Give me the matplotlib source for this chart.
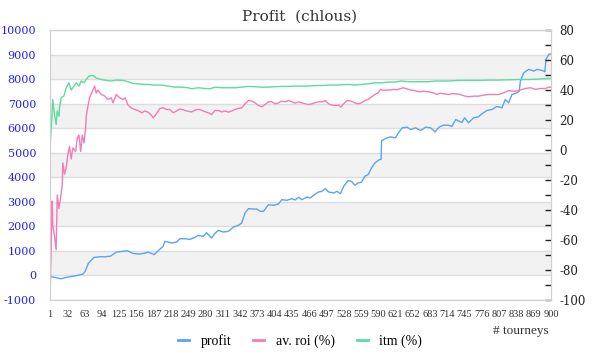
import matplotlib
matplotlib.use("Agg")
import matplotlib.pyplot as plt
import numpy as np
from matplotlib.lines import Line2D

# profit (left axis)
profit_t = [1, 10, 20, 30, 40, 50, 60, 64, 70, 80, 90, 100, 110, 120, 130, 140, 150, 160, 170, 177,
            183, 188, 195, 204, 207, 213, 219, 228, 234, 243, 252, 261, 267, 276, 282, 291, 297, 303,
            312, 321, 330, 339, 345, 351, 357, 366, 372, 378, 384, 393, 402, 411, 417, 426, 435, 441,
            447, 453, 462, 468, 477, 483, 489, 495, 501, 510, 516, 522, 528, 534, 536, 542, 548, 554,
            560, 566, 572, 578, 584, 592, 595, 596, 606, 612, 621, 625, 633, 642, 648, 657, 666, 675,
            684, 692, 699, 707, 716, 722, 729, 740, 745, 752, 761, 770, 776, 785, 794, 803, 812, 818,
            824, 830, 839, 843, 845, 851, 860, 869, 875, 881, 887, 889, 891, 896, 900]
profit = [-40, -81, -136, -81, -40, 0, 54, 163, 503, 735, 762, 762, 789, 952, 980, 1007, 898, 871, 898, 952,
          898, 844, 1007, 1184, 1388, 1361, 1320, 1361, 1497, 1497, 1470, 1551, 1633, 1592, 1741, 1524, 1714, 1837,
          1769, 1796, 1973, 2041, 2136, 2544, 2721, 2707, 2707, 2612, 2612, 2884, 2857, 2911, 3088, 3061, 3129, 3075,
          3184, 3088, 3197, 3156, 3320, 3401, 3428, 3537, 3401, 3360, 3428, 3333, 3633, 3810, 3864, 3837, 3673, 3769,
          3796, 4041, 4109, 4381, 4585, 4721, 4721, 5497, 5605, 5646, 5605, 5769, 6014, 6041, 5946, 6014, 5905, 6041,
          6014, 5850, 6041, 6123, 6123, 6068, 6354, 6231, 6422, 6218, 6422, 6463, 6585, 6721, 6762, 6884, 6830, 7170,
          7034, 7374, 7442, 7510, 7918, 8259, 8395, 8327, 8395, 8368, 8327, 8300, 8803, 9007, 9034]

# av. roi (%) (right axis)
roi_t = [1, 5, 6, 9, 12, 14, 17, 20, 23, 24, 27, 30, 33, 36, 39, 42, 47, 50, 53, 56, 59, 62, 65, 66, 69,
         72, 78, 81, 84, 87, 93, 99, 105, 111, 114, 120, 126, 132, 136, 141, 147, 153, 159, 166, 171, 177,
         183, 186, 192, 198, 204, 210, 216, 222, 228, 234, 240, 246, 255, 264, 270, 276, 285, 291, 297, 303,
         309, 315, 321, 327, 333, 339, 345, 351, 357, 363, 369, 375, 381, 387, 393, 399, 405, 411, 417, 423,
         429, 435, 441, 447, 453, 459, 465, 471, 477, 483, 489, 495, 501, 507, 513, 519, 523, 528, 534, 542,
         548, 554, 560, 566, 572, 578, 584, 590, 594, 599, 605, 611, 617, 623, 629, 635, 641, 647, 653, 659,
         665, 671, 680, 689, 695, 701, 707, 716, 722, 728, 737, 746, 752, 761, 770, 779, 788, 797, 806, 815,
         824, 833, 842, 848, 854, 863, 872, 881, 890, 896, 900]
roi = [-99, -34, -50, -57, -66.5, -30, -39, -32, -23, -8.6, -16, -12, -3, 2.5, -6, 1.4, -1, 8, 10, -1, 10, 4.7, 14.7, 22.5, 29,
       34.8, 40, 42.6, 38, 40, 37, 36, 33.7, 34.8, 31.4, 37, 34.8, 33.7, 34.8, 30, 28, 27, 26.3, 24.8, 26, 25.2,
       23.2, 21.4, 24.1, 27.7, 28.1, 27, 27, 24.8, 26, 27.4, 26.8, 26, 25.4, 27, 27, 26, 24.8, 23.6, 26.3, 26.3,
       25.4, 26, 25.2, 26, 27, 27.7, 28.1, 30.8, 33, 32.6, 31.4, 29.7, 28.8, 30.3, 32.1, 32.1, 30.8, 31.4, 32.6, 32.1,
       33, 32.1, 31.2, 32.1, 31.4, 30.8, 30.3, 30.8, 31.6, 32.1, 32.1, 33, 30.8, 29.9, 29.7, 29.9, 28.6, 30.8, 33, 32.6,
       31.4, 30.8, 31.4, 33, 33.7, 35.5, 37, 38.1, 40.4, 39.8, 40, 40, 40.4, 40.2, 40.8, 41.5, 40.8, 40, 39.8, 39.2,
       38.8, 39.2, 38.8, 38.1, 37, 37.9, 37.5, 37, 37.5, 37.5, 37, 35.9, 35.5, 35.9, 35.9, 36.6, 37, 37, 37, 38.1,
       39.6, 39.2, 39.6, 40.4, 41, 41.5, 40.4, 41, 41, 41.9, 41.9]

# itm (%) (right axis)
itm_t = [1, 6, 9, 12, 14, 17, 18, 21, 26, 30, 35, 39, 44, 48, 53, 57, 62, 66, 71, 78, 84, 93, 102, 111, 120,
         132, 141, 150, 159, 171, 177, 189, 201, 213, 225, 237, 249, 255, 267, 279, 288, 297, 309, 321, 333,
         345, 357, 369, 381, 393, 405, 417, 429, 441, 453, 465, 477, 489, 501, 513, 525, 537, 548, 560, 572,
         584, 596, 608, 620, 632, 644, 656, 668, 680, 692, 704, 716, 734, 752, 770, 788, 806, 824, 842, 860,
         878, 896, 900]
itm = [0.3, 33.7, 23.6, 17, 26, 22.5, 28, 34.8, 36, 41.5, 44.8, 40, 42.6, 44.8, 42.6, 46, 44.8, 47, 49.3, 49.7, 48, 47, 46.4, 46, 46.6,
       46.4, 45.5, 44.4, 44.1, 43.7, 43.7, 43.3, 43.3, 42.6, 41.9, 41.9, 41.5, 40.8, 41.5, 41, 40.8, 41.9, 41.5, 41.5, 41.5,
       41.9, 42.4, 42.2, 41.9, 41.9, 42.2, 42.4, 42.4, 42.6, 42.6, 42.6, 43, 43, 43.3, 43.3, 43.5, 43.7, 43.3, 43.7, 44.1,
       44.8, 44.8, 45.3, 45.3, 46, 45.5, 45.5, 45.5, 45.5, 46, 46, 46, 46.4, 46.4, 46.4, 46.6, 46.6, 46.8, 47, 47,
       47.3, 47.7, 47.7]

x_ticks = list(range(1, 900, 31)) + [900]
left_ticks = list(range(-1000, 10001, 1000))
right_ticks = list(range(-100, 81, 20))

c_profit = '#5aa4f2'
c_roi = '#f47cb5'
c_itm = '#5bdca0'

fig = plt.figure(figsize=(6, 3.6), dpi=100)
ax = fig.add_axes([50/600, 60/360, 501/600, 270/360])
ax2 = ax.twinx()

# alternating bands + grid
for lo in range(0, 9000, 2000):
    ax.axhspan(lo, lo + 1000, color='#f2f2f2', zorder=0, lw=0)
for v in left_ticks:
    ax.axhline(v, color='#dddddd', lw=1, zorder=0.5)

ax.plot(profit_t, profit, color=c_profit, lw=1, zorder=2)
ax2.plot(roi_t, roi, color=c_roi, lw=1)
ax2.plot(itm_t, itm, color=c_itm, lw=1)

ax.set_xlim(1, 900)
ax.set_ylim(-1000, 10000)
ax2.set_ylim(-100, 80)

ax.set_yticks(left_ticks)
ax.set_yticklabels([str(v) for v in left_ticks], color='#2020ff', fontsize=8,
                   family='DejaVu Serif')
ax.tick_params(axis='y', length=0, pad=10)

ax.set_xticks(x_ticks)
ax.set_xticklabels([str(v) for v in x_ticks], fontsize=7.5, color='#333333',
                   family='Liberation Serif')
ax.tick_params(axis='x', length=0, pad=7)

ax2.set_yticks(right_ticks)
ax2.set_yticks(list(range(-90, 80, 20)), minor=True)
ax2.set_yticklabels([str(v) for v in right_ticks], fontsize=8.5, color='#222222',
                    family='DejaVu Serif')
ax2.tick_params(axis='y', which='both', direction='in', length=4, width=1, color='#222222', pad=6)

for a in (ax, ax2):
    for s in a.spines.values():
        s.set_color('#d0d0d0')

fig.text(0.5, 0.955, 'Profit  (chlous)', ha='center', va='center', fontsize=11,
         color='#333333', family='DejaVu Serif')
fig.text(549/600, 1 - 331/360, '# tourneys', ha='right', va='center', fontsize=9.5,
         color='#333333', family='Liberation Serif')

handles = [Line2D([], [], color=c_profit, lw=2),
           Line2D([], [], color=c_roi, lw=2),
           Line2D([], [], color=c_itm, lw=2)]
fig.legend(handles, ['profit', 'av. roi (%)', 'itm (%)'], loc='center',
           bbox_to_anchor=(0.5, 1 - 341/360), ncol=3, frameon=False, handlelength=0.8,
           handletextpad=0.8, columnspacing=1.6, prop={'family': 'Liberation Serif', 'size': 10})

fig.savefig('out.png', dpi=100)
